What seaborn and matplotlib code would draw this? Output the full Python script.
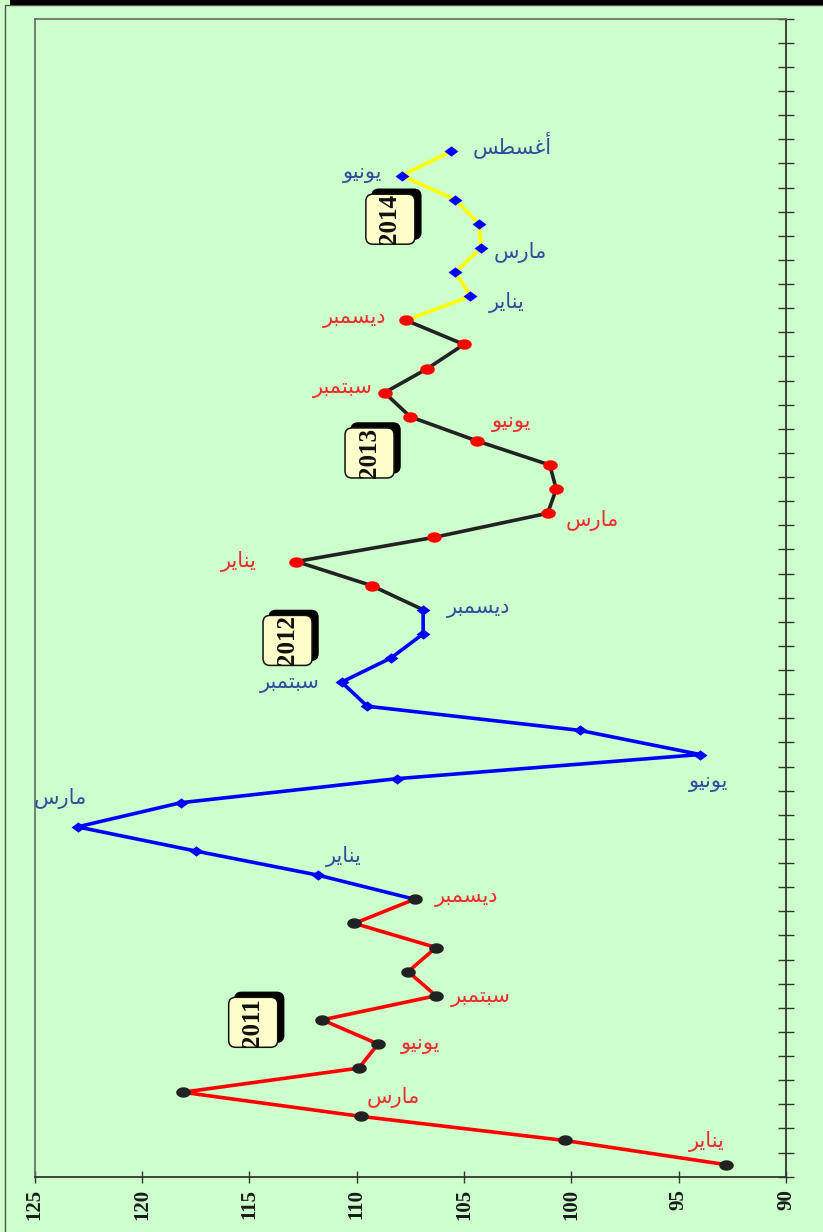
import numpy as np
import pandas as pd
import matplotlib
matplotlib.use("Agg")
import matplotlib.pyplot as plt
import matplotlib.transforms as mtransforms
from matplotlib.patches import FancyBboxPatch, Rectangle
import seaborn as sns

# monthly values, slot 0 = first month of 2011 (48 slots on the axis)
years = ["2011", "2012", "2013", "2014"]
values_2011 = [92.8, 100.3, 109.8, 118.1, 109.9, 109.0, 111.6, 106.3, 107.6, 106.3, 110.1, 107.3]
values_2012 = [111.8, 117.5, 123.0, 118.2, 108.1, 94.0, 99.6, 109.5, 110.7, 108.4, 106.9, 106.9]
values_2013 = [109.3, 112.8, 106.4, 101.1, 100.7, 101.0, 104.4, 107.5, 108.7, 106.7, 105.0, 107.7]
values_2014 = [104.7, 105.4, 104.2, 104.3, 105.4, 107.9, 105.6]
n_slots = 48
x_ticks = [90, 95, 100, 105, 110, 115, 120, 125]

labels_2011 = ["يناير", "مارس", "يونيو", "سبتمبر", "ديسمبر"]
labels_2012 = ["يناير", "مارس", "يونيو", "سبتمبر", "ديسمبر"]
labels_2013 = ["يناير", "مارس", "يونيو", "سبتمبر", "ديسمبر"]
labels_2014 = ["يناير", "مارس", "يونيو", "أغسطس"]

# matplotlib has no arabic shaping, so pick presentation forms by hand
FORMS = {
    "ا": ("\uFE8D", "\uFE8E", None, None),
    "أ": ("\uFE83", "\uFE84", None, None),
    "ب": ("\uFE8F", "\uFE90", "\uFE91", "\uFE92"),
    "ت": ("\uFE95", "\uFE96", "\uFE97", "\uFE98"),
    "د": ("\uFEA9", "\uFEAA", None, None),
    "ر": ("\uFEAD", "\uFEAE", None, None),
    "س": ("\uFEB1", "\uFEB2", "\uFEB3", "\uFEB4"),
    "ط": ("\uFEC1", "\uFEC2", "\uFEC3", "\uFEC4"),
    "غ": ("\uFECD", "\uFECE", "\uFECF", "\uFED0"),
    "م": ("\uFEE1", "\uFEE2", "\uFEE3", "\uFEE4"),
    "ن": ("\uFEE5", "\uFEE6", "\uFEE7", "\uFEE8"),
    "و": ("\uFEED", "\uFEEE", None, None),
    "ي": ("\uFEF1", "\uFEF2", "\uFEF3", "\uFEF4"),
}


def shape(word):
    out = []
    for i, ch in enumerate(word):
        iso, fin, ini, med = FORMS[ch]
        prev_joins = i > 0 and FORMS[word[i - 1]][2] is not None
        joins_next = ini is not None and i < len(word) - 1
        if prev_joins and joins_next:
            out.append(med)
        elif prev_joins:
            out.append(fin)
        elif joins_next:
            out.append(ini)
        else:
            out.append(iso)
    return "".join(reversed(out))


all_values = [values_2011, values_2012, values_2013, values_2014]
all_labels = [labels_2011, labels_2012, labels_2013, labels_2014]

line_rows, point_rows = [], []
start = 0
for k, (yr, vals) in enumerate(zip(years, all_values)):
    if k > 0:
        line_rows.append((yr, start - 1, all_values[k - 1][-1]))
    for i, v in enumerate(vals):
        line_rows.append((yr, start + i, v))
        point_rows.append((yr, start + i, v))
    start += 12
lines_df = pd.DataFrame(line_rows, columns=["year", "slot", "value"])
points_df = pd.DataFrame(point_rows, columns=["year", "slot", "value"])

sns.set_style("ticks")
plt.rcParams["font.family"] = ["DejaVu Sans"]

bg = "#CCFFCC"
fig = plt.figure(figsize=(8.23, 12.32), dpi=100, facecolor=bg)
ax = fig.add_axes([0.0420, 0.0449, 0.9130, 0.9399])
ax.set_facecolor(bg)

line_colors = {"2011": "#FF0000", "2012": "#0000FF", "2013": "#222222", "2014": "#FFFF00"}
sns.lineplot(data=lines_df, x="value", y="slot", hue="year", palette=line_colors,
             sort=False, estimator=None, linewidth=2.6, legend=False, ax=ax, zorder=2)

t = np.linspace(0, 2 * np.pi, 41)
ellipse = list(zip(1.4 * np.cos(t), np.sin(t)))
diamond = [(-1.35, 0), (0, 1), (1.35, 0), (0, -1), (-1.35, 0)]
marker_style = {
    "2011": (ellipse, "#222222", 110),
    "2012": (diamond, "#0000FF", 100),
    "2013": (ellipse, "#FF0000", 110),
    "2014": (diamond, "#0000FF", 100),
}
for yr in years:
    m, c, s = marker_style[yr]
    sub = points_df[points_df.year == yr]
    sns.scatterplot(x=sub.value, y=sub.slot, marker=m, color=c, s=s,
                    linewidth=0, ax=ax, zorder=3, legend=False)

ax.set_xlim(125, 90)
ax.set_ylim(-0.5, n_slots - 0.5)
ax.set_xlabel("")
ax.set_ylabel("")

ax.set_xticks(x_ticks)
ax.set_xticklabels([str(v) for v in x_ticks], rotation=90, fontsize=15,
                   fontweight="bold", family="Liberation Serif", color="#1a1a1a")
ax.tick_params(axis="x", direction="inout", length=8, width=1, pad=5, color="#333333")
ax.set_yticks(np.arange(-0.5, n_slots, 1))
ax.yaxis.tick_right()
ax.tick_params(axis="y", direction="inout", length=11, width=1,
               labelright=False, color="#333333")
for side in ["top", "left"]:
    ax.spines[side].set_color("#666666")
    ax.spines[side].set_linewidth(1.2)
for side in ["right", "bottom"]:
    ax.spines[side].set_color("#333333")
    ax.spines[side].set_linewidth(1.3)

# month labels
label_pos = [
    [(93.7, 0.94), (108.3, 2.8), (107.0, 5.0), (104.2, 6.95), (104.9, 11.1)],
    [(110.6, 12.76), (123.8, 15.16), (93.6, 15.87), (113.1, 19.96), (104.3, 23.07)],
    [(115.5, 24.99), (99.0, 26.72), (102.8, 30.8), (110.66, 32.2), (110.1, 35.1)],
    [(103.0, 35.72), (102.4, 37.8), (109.7, 41.1), (102.75, 42.3)],
]
label_colors = ["#EE2A2A", "#2F4D9E", "#EE2A2A", "#2F4D9E"]
for names, pos, col in zip(all_labels, label_pos, label_colors):
    for name, (x, y) in zip(names, pos):
        ax.text(x, y, shape(name), ha="center", va="center", fontsize=15,
                color=col, family=["DejaVu Sans"], zorder=4)

# year boxes with a black drop shadow
box_pos = [(114.84, 5.90), (113.24, 21.73), (109.42, 29.5), (108.45, 39.19)]
for yr, (x, y) in zip(years, box_pos):
    trans = fig.dpi_scale_trans + mtransforms.ScaledTranslation(x, y, ax.transData)
    shadow = FancyBboxPatch((-0.16, -0.18), 0.45, 0.46, transform=trans,
                            boxstyle="round,pad=0.02,rounding_size=0.07",
                            fc="black", ec="black", zorder=4)
    box = FancyBboxPatch((-0.22, -0.23), 0.45, 0.46, transform=trans,
                         boxstyle="round,pad=0.02,rounding_size=0.07",
                         fc="#FFFFCC", ec="#111111", lw=1.1, zorder=5)
    ax.add_patch(shadow)
    ax.add_patch(box)
    ax.text(x, y, yr, rotation=90, ha="center", va="center", fontsize=18,
            fontweight="bold", family="Liberation Serif", color="#111111", zorder=6)

# page frame
fig.patches.append(Rectangle((5 / 823, -0.1), 2, 1.1 - 5 / 1232, transform=fig.transFigure,
                             fill=False, ec="#555555", lw=1))
fig.patches.append(Rectangle((10 / 823, 1 - 5 / 1232), 1, 5 / 1232, transform=fig.transFigure,
                             fc="black", ec="none"))

fig.savefig("out.png", dpi=100, facecolor=bg)
